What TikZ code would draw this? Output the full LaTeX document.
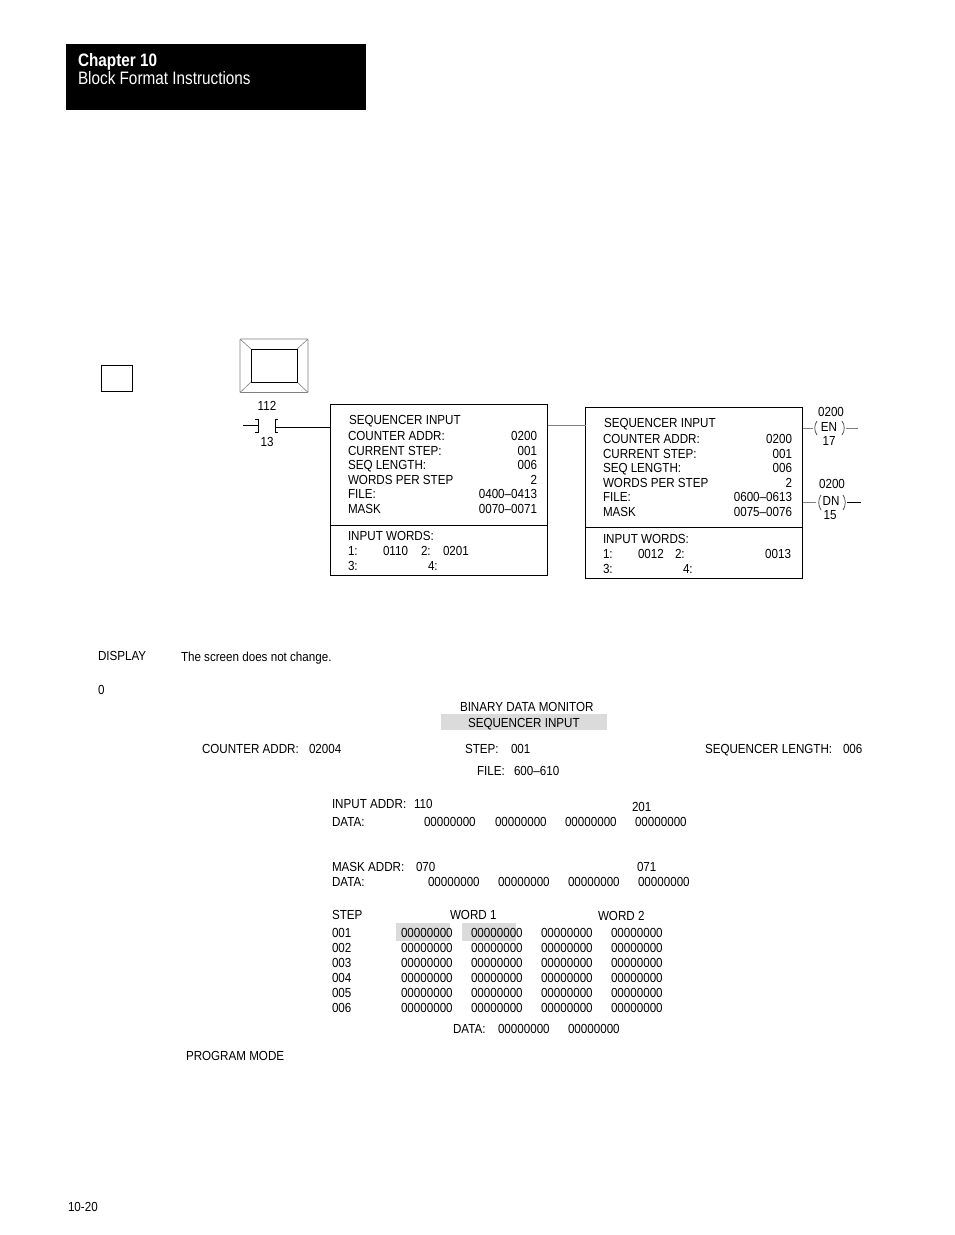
\documentclass[tikz,border=0pt]{standalone}
\usepackage{fontspec}
\setmainfont{Liberation Sans}[FakeStretch=0.885]
\newfontfamily\hdfont{Liberation Sans}[FakeStretch=0.85]
\newcounter{tn}
\newcommand{\TL}[3]{\stepcounter{tn}\node[lbl] (t\arabic{tn}) at (#1,#2) {#3};}
\newcommand{\TR}[3]{\stepcounter{tn}\node[rbl] (t\arabic{tn}) at (#1,#2) {#3};}
\newcommand{\TC}[3]{\stepcounter{tn}\node[cbl] (t\arabic{tn}) at (#1,#2) {#3};}
\tikzset{
  txt/.style={inner sep=0pt,outer sep=0pt,text=black,yshift=0.75pt,font=\fontsize{9.85pt}{11pt}\selectfont},
  lbl/.style={txt,anchor=base west},
  rbl/.style={txt,anchor=base east},
  cbl/.style={txt,anchor=base},
  ladderbox/.style={draw=black,line width=0.65pt,inner sep=0pt,outer sep=0pt,anchor=north west,minimum width=162.8pt,minimum height=128.5pt},
  rung/.style={line width=0.65pt},
  fainter/.style={line width=0.45pt,draw=black!50},
  arcline/.style={line width=0.55pt,draw=black!70},
  hl/.style={fill=black!14,draw=none},
}
\begin{document}
\begin{tikzpicture}[x=0.75pt,y=-0.75pt]
\useasboundingbox (0,0) rectangle (954,1235);
% header
\fill[black] (66,44) rectangle (366,110);
\node[lbl,yshift=-0.75pt,text=white,font=\fontsize{13.5pt}{15pt}\hdfont\bfseries] (hdA) at (78,66) {Chapter 10};
\node[lbl,yshift=-0.75pt,text=white,font=\fontsize{13.5pt}{15pt}\hdfont] (hdB) at (78,84) {Block Format Instructions};
% small square and monitor icon
\draw[line width=0.65pt] (101,365) rectangle (132,391);
\draw[draw=black!50,line width=0.7pt,rounded corners=0.8pt] (240,339) rectangle (308,392.5);
\draw[draw=black!50,line width=0.45pt] (240,339)--(251,349) (308,339)--(297,349) (240,392.5)--(251,382) (308,392.5)--(297,382);
\draw[line width=0.65pt] (251,349) rectangle (297.5,382);
% contact
\TC{267}{411}{112}
\TC{267}{447}{13}
\coordinate (cL) at (243,425.5);
\coordinate (cLb) at (258,425.5);
\coordinate (cRb) at (275,427);
\draw[rung] (cL)--(cLb);
\draw[rung] (255,419)--(258,419)--(258,432)--(255,432);
\draw[rung] (277.5,419)--(275,419)--(275,432)--(277.5,432);
% boxes
\node[ladderbox] (boxA) at (330.5,404.5) {};
\node[ladderbox] (boxB) at (585.5,407.5) {};
\draw[rung] (cRb)--(boxA.west |- cRb);
\coordinate (sepA) at (330.5,525);
\coordinate (sepB) at (585.5,527.5);
\draw[rung] (sepA)--(boxA.east |- sepA);
\draw[rung] (sepB)--(boxB.east |- sepB);
\coordinate (linkA) at (548,425.5);
\draw[fainter] (boxA.east |- linkA)--(boxB.west |- linkA);
% box A text
\TL{349}{425}{SEQUENCER INPUT}
\TL{348}{441}{COUNTER ADDR:}\TR{537}{441}{0200}
\TL{348}{456}{CURRENT STEP:}\TR{537}{456}{001}
\TL{348}{470}{SEQ LENGTH:}\TR{537}{470}{006}
\TL{348}{485}{WORDS PER STEP}\TR{537}{485}{2}
\TL{348}{499}{FILE:}\TR{537}{499}{0400–0413}
\TL{348}{514}{MASK}\TR{537}{514}{0070–0071}
\TL{348}{541}{INPUT WORDS:}
\TL{348}{556}{1:}\TL{383}{556}{0110}\TL{421}{556}{2:}\TL{443}{556}{0201}
\TL{348}{571}{3:}\TL{428}{571}{4:}
% box B text
\TL{604}{428}{SEQUENCER INPUT}
\TL{603}{444}{COUNTER ADDR:}\TR{792}{444}{0200}
\TL{603}{459}{CURRENT STEP:}\TR{792}{459}{001}
\TL{603}{473}{SEQ LENGTH:}\TR{792}{473}{006}
\TL{603}{488}{WORDS PER STEP}\TR{792}{488}{2}
\TL{603}{502}{FILE:}\TR{792}{502}{0600–0613}
\TL{603}{517}{MASK}\TR{792}{517}{0075–0076}
\TL{603}{544}{INPUT WORDS:}
\TL{603}{559}{1:}\TL{638}{559}{0012}\TL{675}{559}{2:}\TR{791}{559}{0013}
\TL{603}{574}{3:}\TL{683}{574}{4:}
% EN coil
\TC{831}{417}{0200}
\TC{829}{432}{EN}
\TC{829}{446}{17}
\coordinate (enL) at (813,428);
\coordinate (enR) at (846,428);
\coordinate (enE) at (858,428);
\draw[fainter] (boxB.east |- enL)--(enL);
\draw[fainter] (enR)--(enE);
\draw[arcline] (817,421) .. controls (814,425) and (814,431) .. (817,435);
\draw[arcline] (842,421) .. controls (845,425) and (845,431) .. (842,435);
% DN coil
\TC{832}{489}{0200}
\TC{831}{506}{DN}
\TC{830}{520}{15}
\coordinate (dnL) at (816,502.5);
\coordinate (dnR) at (847,502.5);
\coordinate (dnE) at (861,502.5);
\draw[fainter] (boxB.east |- dnL)--(dnL);
\draw[rung] (dnR)--(dnE);
\draw[arcline] (821,495) .. controls (818,499) and (818,506) .. (821,510);
\draw[arcline] (843,495) .. controls (846,499) and (846,506) .. (843,510);
% middle
\TL{98}{661}{DISPLAY}
\TL{181}{662}{The screen does not change.}
\TL{98}{695}{0}
% monitor screen
\fill[hl] (441,714) rectangle (607,730);
\fill[hl] (396,923) rectangle (450,941);
\fill[hl] (462,923) rectangle (516,941);
\TL{460}{712}{BINARY DATA MONITOR}
\TL{468}{728}{SEQUENCER INPUT}
\TL{202}{754}{COUNTER ADDR:}\TL{309}{754}{02004}
\TL{465}{754}{STEP:}\TL{511}{754}{001}
\TL{705}{754}{SEQUENCER LENGTH:}\TL{843}{754}{006}
\TL{477}{776}{FILE:}\TL{514}{776}{600–610}
\TL{332}{809}{INPUT ADDR:}\TL{414}{809}{110}\TL{632}{812}{201}
\TL{332}{827}{DATA:}\TL{424}{827}{00000000}\TL{495}{827}{00000000}\TL{565}{827}{00000000}\TL{635}{827}{00000000}
\TL{332}{872}{MASK ADDR:}\TL{416}{872}{070}\TL{637}{872}{071}
\TL{332}{887}{DATA:}\TL{428}{887}{00000000}\TL{498}{887}{00000000}\TL{568}{887}{00000000}\TL{638}{887}{00000000}
\TL{332}{920}{STEP}\TL{450}{920}{WORD 1}\TL{598}{921}{WORD 2}
\TL{332}{938}{001}\TL{401}{938}{00000000}\TL{471}{938}{00000000}\TL{541}{938}{00000000}\TL{611}{938}{00000000}
\TL{332}{953}{002}\TL{401}{953}{00000000}\TL{471}{953}{00000000}\TL{541}{953}{00000000}\TL{611}{953}{00000000}
\TL{332}{968}{003}\TL{401}{968}{00000000}\TL{471}{968}{00000000}\TL{541}{968}{00000000}\TL{611}{968}{00000000}
\TL{332}{983}{004}\TL{401}{983}{00000000}\TL{471}{983}{00000000}\TL{541}{983}{00000000}\TL{611}{983}{00000000}
\TL{332}{998}{005}\TL{401}{998}{00000000}\TL{471}{998}{00000000}\TL{541}{998}{00000000}\TL{611}{998}{00000000}
\TL{332}{1013}{006}\TL{401}{1013}{00000000}\TL{471}{1013}{00000000}\TL{541}{1013}{00000000}\TL{611}{1013}{00000000}
\TL{453}{1034}{DATA:}\TL{498}{1034}{00000000}\TL{568}{1034}{00000000}
\TL{186}{1061}{PROGRAM MODE}
\TL{68}{1212}{10-20}
\end{tikzpicture}
\end{document}
